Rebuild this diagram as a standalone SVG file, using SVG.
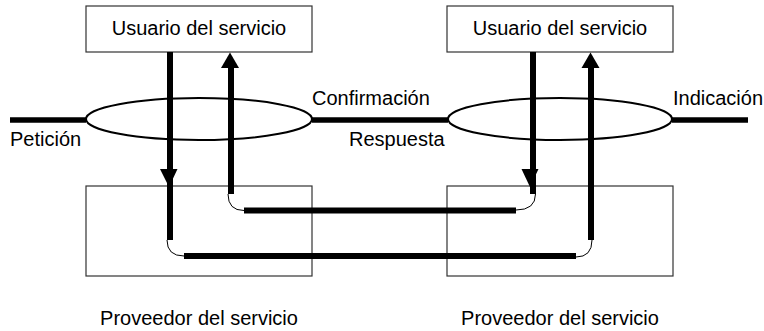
<svg xmlns="http://www.w3.org/2000/svg" width="764" height="331" viewBox="0 0 764 331">
<style>
.box{fill:#fff;stroke:#333;stroke-width:1.2}
.ell{fill:#fff;stroke:#000;stroke-width:2}
.t{font-family:"Liberation Sans",Arial,sans-serif;font-size:20px;fill:#000}
.thick{stroke:#000;stroke-width:6;fill:none}
.thin{stroke:#000;stroke-width:1;fill:none}
.head{fill:#000}
</style>
<g id="provider-left"><rect class="box" x="86" y="186" width="226" height="90"/><text class="t" x="199" y="325" text-anchor="middle">Proveedor del servicio</text></g>
<g id="provider-right"><rect class="box" x="447" y="186" width="226" height="90"/><text class="t" x="560" y="325" text-anchor="middle">Proveedor del servicio</text></g>
<g id="user-left"><rect class="box" x="86" y="6" width="226" height="46"/><text class="t" x="199" y="35" text-anchor="middle">Usuario del servicio</text></g>
<g id="user-right"><rect class="box" x="447" y="6" width="226" height="46"/><text class="t" x="560" y="35" text-anchor="middle">Usuario del servicio</text></g>
<g id="lines">
<line class="thick" x1="10" y1="120" x2="86" y2="120" style="stroke-width:5.5"/>
<line class="thick" x1="312" y1="120" x2="448" y2="120" style="stroke-width:5.5"/>
<line class="thick" x1="672" y1="120" x2="748" y2="120" style="stroke-width:5.5"/>
</g>
<g id="entity-left"><ellipse class="ell" cx="199" cy="119" rx="113" ry="21"/></g>
<g id="entity-right"><ellipse class="ell" cx="560" cy="119" rx="112" ry="21"/></g>
<g id="labels">
<text class="t" x="10" y="146">Petición</text>
<text class="t" x="312" y="105">Confirmación</text>
<text class="t" x="349" y="146">Respuesta</text>
<text class="t" x="673" y="105">Indicación</text>
</g>
<g id="connectors">
<line class="thick" x1="170" y1="52" x2="170" y2="240"/>
<polygon class="head" points="160,169 177.5,169 169,187"/>
<path class="thin" d="M167,240 Q167,256 184,256"/>
<line class="thick" x1="184" y1="256" x2="576" y2="256"/>
<path class="thin" d="M576,257 Q592,257 592,240"/>
<line class="thick" x1="591" y1="68" x2="591" y2="240"/>
<polygon class="head" points="581.5,68 599.5,68 590.5,52.5"/>
<line class="thick" x1="231" y1="68" x2="231" y2="194"/>
<polygon class="head" points="221,68 239,68 230,52.5"/>
<path class="thin" d="M228,194 Q228,210.5 244,210.5"/>
<line class="thick" x1="244" y1="210.5" x2="516" y2="210.5"/>
<path class="thin" d="M516,210 Q535.5,210 535.5,194"/>
<line class="thick" x1="533" y1="52" x2="533" y2="194"/>
<polygon class="head" points="521.5,169 538.5,169 530,187"/>
</g>
</svg>
